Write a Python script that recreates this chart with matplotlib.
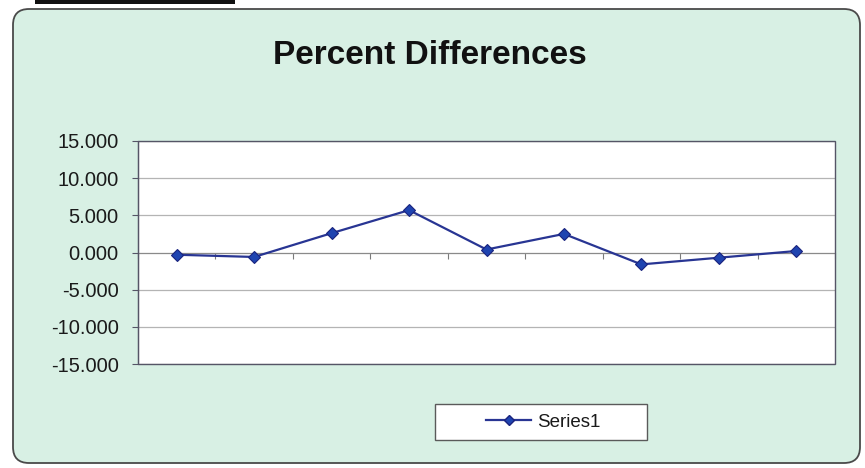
import numpy as np
import matplotlib.pyplot as plt
from matplotlib.patches import FancyBboxPatch, Rectangle
from matplotlib.lines import Line2D

plt.rcParams['font.family'] = ['Liberation Sans', 'DejaVu Sans']

# percent difference per sample
categories = [1, 2, 3, 4, 5, 6, 7, 8, 9]
series1 = [-0.3, -0.6, 2.6, 5.7, 0.4, 2.5, -1.6, -0.7, 0.2]
yticks = [-15, -10, -5, 0, 5, 10, 15]
series_name = 'Series1'

W, H = 865, 468
fig = plt.figure(figsize=(W / 100, H / 100), dpi=100, facecolor='white')

# chart area with rounded corners
frame = FancyBboxPatch((13, 5), 847, 454, boxstyle='round,pad=0,rounding_size=16',
                       transform=None, facecolor='#d8f0e4', edgecolor='#4a4a4a',
                       linewidth=1.3, zorder=-2)
fig.patches.append(frame)
# dark strip along the top edge of the page
fig.patches.append(Rectangle((35, H - 4), 200, 4, transform=None,
                             facecolor='#111111', edgecolor='none', zorder=-2))

fig.text(430 / W, 1 - 64 / H, 'Percent Differences', ha='center', va='baseline',
         fontsize=24, fontweight='bold', color='#111111')

ax = fig.add_axes([138 / W, 1 - 364 / H, 697 / W, 223 / H])
ax.set_facecolor('white')

ax.plot(categories, series1, color='#283593', linewidth=1.6, marker='D',
        markersize=6.5, markerfacecolor='#1f44b0', markeredgecolor='#1a237e',
        markeredgewidth=0.8, zorder=3)

ax.set_xlim(0.5, 9.5)
ax.set_ylim(-15, 15)
ax.set_yticks(yticks)
ax.set_yticklabels([f'{v:.3f}' for v in yticks])
ax.yaxis.grid(True, color='#b4b4b4', linewidth=0.9)
ax.set_axisbelow(True)

# category axis crosses at zero, ticks between categories
ax.set_xticks(np.arange(0.5, 10, 1))
ax.set_xticklabels([])
ax.spines['bottom'].set_position(('data', 0))
ax.spines['bottom'].set_color('#8a8a8a')
ax.tick_params(axis='x', direction='out', length=4, color='#7a7a7a')
ax.tick_params(axis='y', direction='out', length=4, color='#555566',
               labelsize=14.5, pad=10, labelcolor='#1a1a1a')
for s in ('top', 'right'):
    ax.spines[s].set_visible(False)
ax.spines['left'].set_color('#555566')
ax.add_patch(Rectangle((0, 0), 1, 1, transform=ax.transAxes, fill=False,
                       edgecolor='#555566', linewidth=1.0, clip_on=False, zorder=4))

# legend box
fig.patches.append(Rectangle((435, H - 440), 212, 36, transform=None,
                             facecolor='white', edgecolor='#5a5a5a',
                             linewidth=1.0, zorder=1))
handle = Line2D([], [], color='#283593', linewidth=1.6, marker='D', markersize=5.5,
                markerfacecolor='#1f44b0', markeredgecolor='#1a237e')
leg = fig.legend([handle], [series_name], loc='center', bbox_to_anchor=(543 / W, 1 - 422 / H),
                 frameon=False, fontsize=13.5, handlelength=2.4, handletextpad=0.3)
leg.set_zorder(5)
for t in leg.get_texts():
    t.set_color('#1a1a1a')

fig.savefig('out.png', dpi=100, facecolor='white')
